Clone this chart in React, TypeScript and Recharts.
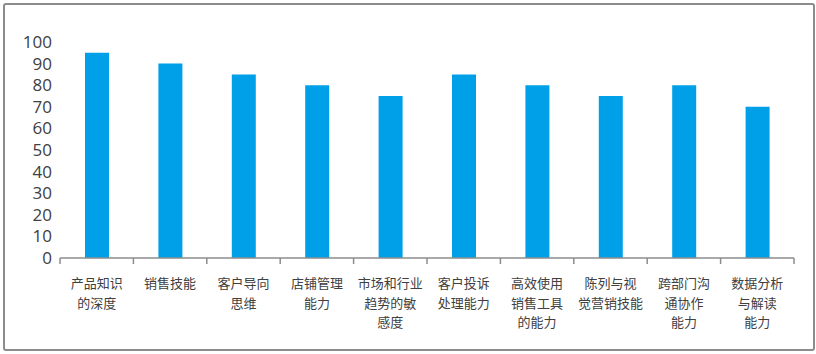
import { BarChart, Bar, XAxis, YAxis } from "recharts";

const categories = [
  "产品知识的深度",
  "销售技能",
  "客户导向思维",
  "店铺管理能力",
  "市场和行业趋势的敏感度",
  "客户投诉处理能力",
  "高效使用销售工具的能力",
  "陈列与视觉营销技能",
  "跨部门沟通协作能力",
  "数据分析与解读能力",
];

// how each label wraps in the picture
const labelLines = [
  ["产品知识", "的深度"],
  ["销售技能"],
  ["客户导向", "思维"],
  ["店铺管理", "能力"],
  ["市场和行业", "趋势的敏", "感度"],
  ["客户投诉", "处理能力"],
  ["高效使用", "销售工具", "的能力"],
  ["陈列与视", "觉营销技能"],
  ["跨部门沟", "通协作", "能力"],
  ["数据分析", "与解读", "能力"],
];

const scores = [95, 90, 85, 80, 75, 85, 80, 75, 80, 70];

const yTicks = [0, 10, 20, 30, 40, 50, 60, 70, 80, 90, 100];

const data = categories.map((name, i) => ({ name, score: scores[i], i }));

const axisColor = "#8c8c8c";

function CategoryTick(props: any) {
  const { x, y, index, visibleTicksCount } = props;
  const plotWidth = typeof props.width === "number" ? props.width : 734;
  const half = plotWidth / (visibleTicksCount || 10) / 2;
  const lines = labelLines[index] || [];
  return (
    <g>
      <line x1={x - half} y1={y} x2={x - half} y2={y + 6} stroke={axisColor} strokeWidth={1.5} />
      {index === (visibleTicksCount || 10) - 1 && (
        <line x1={x + half} y1={y} x2={x + half} y2={y + 6} stroke={axisColor} strokeWidth={1.5} />
      )}
      <text
        x={x}
        y={y + 30}
        textAnchor="middle"
        fill="#404040"
        fontSize={13}
        fontFamily="'Noto Sans CJK SC', sans-serif"
      >
        {lines.map((l: string, k: number) => (
          <tspan key={k} x={x} dy={k === 0 ? 0 : 19.5}>
            {l}
          </tspan>
        ))}
      </text>
    </g>
  );
}

export default function App() {
  return (
    <div style={{ position: "fixed", left: 0, top: 0, width: 816, height: 354, background: "#fff" }}>
      <div
        style={{
          position: "absolute",
          left: 3,
          top: 3,
          width: 808,
          height: 344,
          border: `2px solid ${axisColor}`,
          borderRadius: 3,
        }}
      />
      <BarChart
        width={816}
        height={354}
        data={data}
        margin={{ top: 42, right: 22, left: 0, bottom: 0 }}
        style={{ position: "absolute", left: 0, top: 0 }}
      >
        <XAxis
          dataKey="name"
          interval={0}
          height={96}
          tickLine={false}
          tickSize={0}
          tickMargin={0}
          axisLine={{ stroke: axisColor, strokeWidth: 1.5 }}
          tick={<CategoryTick />}
        />
        <YAxis
          width={60}
          domain={[0, 100]}
          ticks={yTicks}
          interval={0}
          axisLine={false}
          tickLine={false}
          tick={{ fill: "#404040", fontSize: 17, fontFamily: "'Open Sans', sans-serif" }}
        />
        <Bar dataKey="score" fill="#00a0e9" barSize={24} isAnimationActive={false} />
      </BarChart>
    </div>
  );
}
